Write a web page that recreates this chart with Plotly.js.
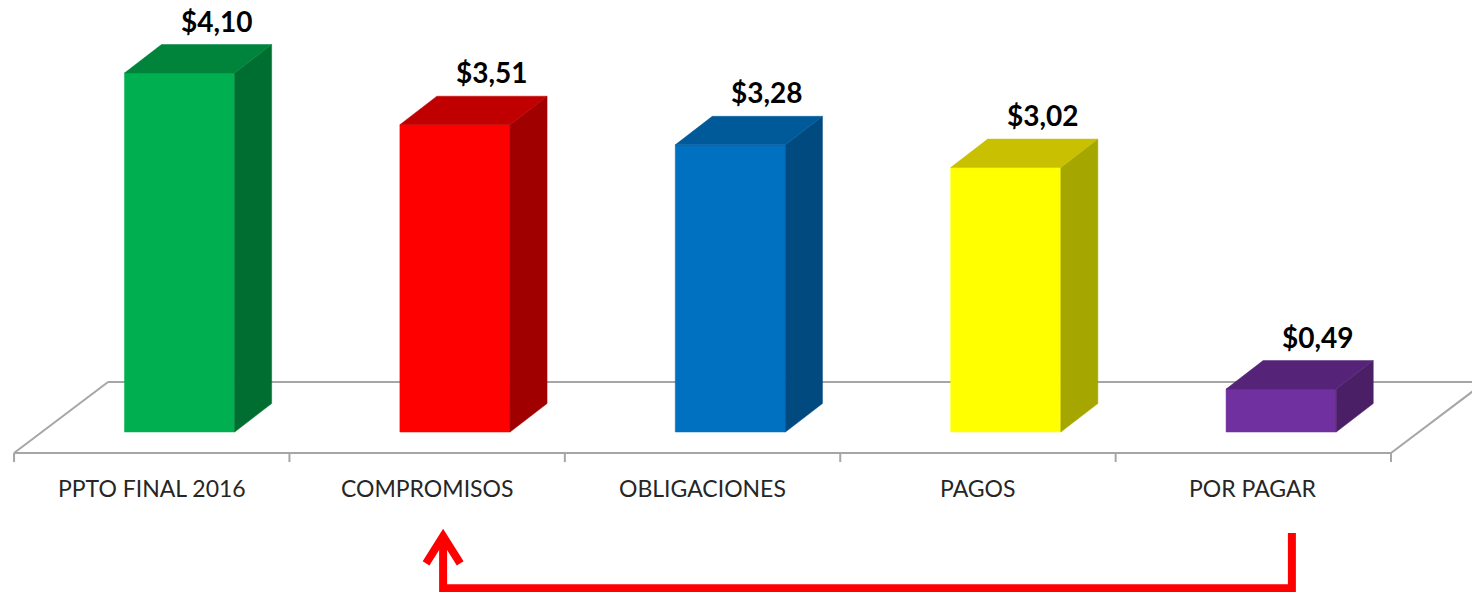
<!DOCTYPE html>
<html>
<head>
<meta charset="utf-8">
<script src="https://cdn.plot.ly/plotly-3.0.1.min.js"></script>
<style>
  html, body { margin: 0; padding: 0; background: #ffffff; }
  #chart { width: 1472px; height: 592px; }
</style>
</head>
<body>
<div id="chart"></div>
<script>
// datos del grafico
const categories = ['PPTO FINAL 2016', 'COMPROMISOS', 'OBLIGACIONES', 'PAGOS', 'POR PAGAR'];
const values = [4.10, 3.51, 3.28, 3.02, 0.49];
const valueLabels = ['$4,10', '$3,51', '$3,28', '$3,02', '$0,49'];

const frontColors = ['#00B050', '#FF0000', '#0070C0', '#FFFF00', '#7030A0'];
const topColors = ['#00843C', '#C00000', '#005A9A', '#C8C000', '#552478'];
const sideColors = ['#006E30', '#A00000', '#004A80', '#A6A600', '#4A1F66'];

// geometria 3D (en unidades de los ejes)
const BAR_HALF = 0.2;
const BAR_SHIFT = 0.101;
const DEPTH_X = 0.1344;
const DEPTH_Y = 0.3255;
const FLOOR_Y = -0.24;
const FLOOR_DX = 0.3413;
const FLOOR_DY = 0.811;
const TICK_LEN = 0.103;

const traces = [];
categories.forEach((c, i) => {
  const v = values[i];
  const x0 = i + BAR_SHIFT - BAR_HALF;
  const x1 = i + BAR_SHIFT + BAR_HALF;
  const face = (xs, ys, color) => ({
    x: xs, y: ys,
    mode: 'lines',
    fill: 'toself',
    fillcolor: color,
    line: { color: color, width: 0.5 },
    hoverinfo: 'skip',
    showlegend: false
  });
  traces.push(face([x0, x1, x1, x0, x0], [0, 0, v, v, 0], frontColors[i]));
  traces.push(face([x1, x1 + DEPTH_X, x1 + DEPTH_X, x1, x1], [0, DEPTH_Y, v + DEPTH_Y, v, 0], sideColors[i]));
  traces.push(face([x0, x1, x1 + DEPTH_X, x0 + DEPTH_X, x0], [v, v, v + DEPTH_Y, v + DEPTH_Y, v], topColors[i]));
});

const n = categories.length;
const floorLine = { color: '#A6A6A6', width: 2 };
const shapes = [
  // piso
  { type: 'line', layer: 'below', x0: -0.5, x1: n - 0.5, y0: FLOOR_Y, y1: FLOOR_Y, line: floorLine },
  { type: 'line', layer: 'below', x0: -0.5 + FLOOR_DX, x1: n - 0.5 + FLOOR_DX, y0: FLOOR_Y + FLOOR_DY, y1: FLOOR_Y + FLOOR_DY, line: floorLine },
  { type: 'line', layer: 'below', x0: -0.5, x1: -0.5 + FLOOR_DX, y0: FLOOR_Y, y1: FLOOR_Y + FLOOR_DY, line: floorLine },
  { type: 'line', layer: 'below', x0: n - 0.5, x1: n - 0.5 + FLOOR_DX, y0: FLOOR_Y, y1: FLOOR_Y + FLOOR_DY, line: floorLine }
];
for (let i = 0; i <= n; i++) {
  shapes.push({ type: 'line', layer: 'below', x0: i - 0.5, x1: i - 0.5, y0: FLOOR_Y, y1: FLOOR_Y - TICK_LEN, line: floorLine });
}

// flecha roja de POR PAGAR a COMPROMISOS
const arrowLine = { color: '#FF0000', width: 8 };
shapes.push({
  type: 'path',
  path: 'M 4.14,-1.153 L 4.14,-1.785 L 1.058,-1.785 L 1.058,-1.2',
  line: arrowLine
});
shapes.push({
  type: 'path',
  path: 'M 0.996,-1.5 L 1.058,-1.19 L 1.12,-1.5',
  line: arrowLine
});

const annotations = [];
categories.forEach((c, i) => {
  annotations.push({
    x: i, y: -0.64, text: c, showarrow: false,
    xanchor: 'center', yanchor: 'middle',
    font: { family: 'Lato', size: 23, color: '#262626' }
  });
  annotations.push({
    x: i + BAR_SHIFT + DEPTH_X, y: values[i] + DEPTH_Y, text: '<b>' + valueLabels[i] + '</b>',
    showarrow: false, xanchor: 'center', yanchor: 'bottom', yshift: 5,
    font: { family: 'Lato', size: 28, color: '#000000' }
  });
});

const layout = {
  width: 1472,
  height: 592,
  margin: { t: 0, b: 0, l: 0, r: 0 },
  paper_bgcolor: '#ffffff',
  plot_bgcolor: '#ffffff',
  showlegend: false,
  hovermode: false,
  xaxis: { range: [-0.551, 4.794], visible: false, fixedrange: true },
  yaxis: { range: [-1.827, 4.934], visible: false, fixedrange: true },
  shapes: shapes,
  annotations: annotations
};

Plotly.newPlot('chart', traces, layout, { displayModeBar: false, staticPlot: true });
</script>
</body>
</html>
